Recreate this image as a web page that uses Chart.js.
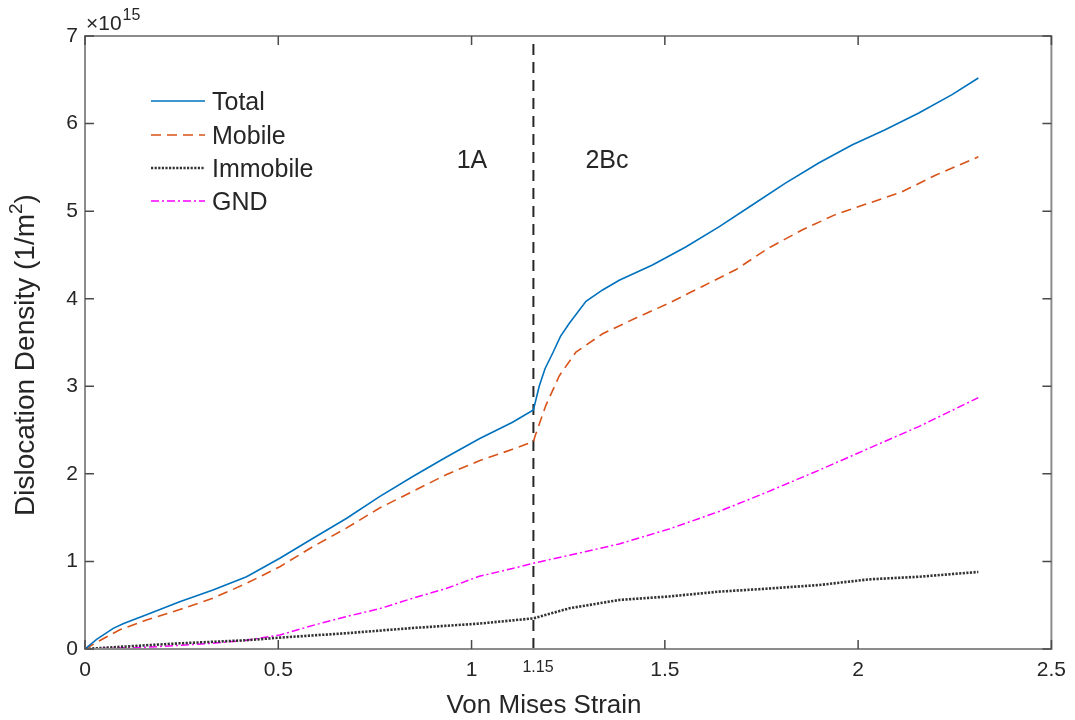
<!DOCTYPE html>
<html>
<head>
<meta charset="utf-8">
<script src="https://cdn.jsdelivr.net/npm/chart.js@4.4.0/dist/chart.umd.min.js"></script>
<style>
  html, body { margin: 0; padding: 0; background: #fff; }
</style>
</head>
<body>
<canvas id="myChart" width="1075" height="720"></canvas>
<script>
// values in units of 1e15 1/m^2 (axis shows x10^15)
const totalStrain  = [0, 0.03, 0.073, 0.1, 0.159, 0.245, 0.331, 0.418, 0.504, 0.59, 0.676, 0.762, 0.848, 0.934, 1.02, 1.106, 1.16,
                      1.175, 1.19, 1.21, 1.23, 1.253, 1.296, 1.339, 1.382, 1.468, 1.554, 1.64, 1.726, 1.812, 1.898, 1.984, 2.07, 2.157, 2.243, 2.311];
const totalDensity = [0, 0.11, 0.236, 0.29, 0.39, 0.54, 0.674, 0.826, 1.036, 1.264, 1.49, 1.74, 1.97, 2.19, 2.40, 2.59, 2.73,
                      3.0, 3.2, 3.38, 3.57, 3.72, 3.97, 4.10, 4.21, 4.385, 4.59, 4.82, 5.07, 5.32, 5.55, 5.755, 5.93, 6.12, 6.33, 6.52];

const mobileStrain  = [0, 0.04, 0.09, 0.159, 0.245, 0.331, 0.418, 0.504, 0.59, 0.676, 0.762, 0.848, 0.934, 1.02, 1.106, 1.16,
                       1.165, 1.192, 1.227, 1.27, 1.339, 1.425, 1.511, 1.597, 1.683, 1.769, 1.855, 1.941, 2.027, 2.113, 2.2, 2.311];
const mobileDensity = [0, 0.1, 0.22, 0.33, 0.45, 0.58, 0.75, 0.94, 1.17, 1.38, 1.61, 1.80, 1.99, 2.15, 2.28, 2.37,
                       2.44, 2.78, 3.12, 3.39, 3.6, 3.78, 3.95, 4.14, 4.33, 4.58, 4.785, 4.96, 5.09, 5.22, 5.41, 5.62];

const immobileStrain  = [0, 0.073, 0.245, 0.418, 0.504, 0.676, 0.848, 1.02, 1.16, 1.253, 1.382, 1.511, 1.64, 1.769, 1.898, 2.027, 2.157, 2.311];
const immobileDensity = [0, 0.02, 0.065, 0.10, 0.13, 0.18, 0.24, 0.29, 0.35, 0.465, 0.56, 0.60, 0.655, 0.69, 0.73, 0.795, 0.825, 0.88];

const gndStrain  = [0, 0.159, 0.331, 0.418, 0.504, 0.59, 0.676, 0.762, 0.848, 0.934, 1.02, 1.106, 1.16, 1.253, 1.382, 1.511, 1.64, 1.769, 1.898, 2.027, 2.157, 2.311];
const gndDensity = [0, 0.02, 0.065, 0.10, 0.16, 0.27, 0.37, 0.46, 0.58, 0.69, 0.83, 0.92, 0.98, 1.07, 1.20, 1.37, 1.57, 1.80, 2.04, 2.29, 2.54, 2.87];

// regime boundary
const boundaryStrain  = [1.16, 1.16];
const boundaryDensity = [0, 7];

const xTicks = [0, 0.5, 1, 1.5, 2, 2.5];
const yTicks = [0, 1, 2, 3, 4, 5, 6, 7];

const FONT = '"Liberation Sans", Arial, Helvetica, sans-serif';
const TXT = '#262626';

function toPoints(xs, ys) {
  return xs.map((x, i) => ({ x: x, y: ys[i] }));
}

const decor = {
  id: 'decor',
  afterDraw(chart) {
    const ctx = chart.ctx;
    const a = chart.chartArea;
    const xs = chart.scales.x, ys = chart.scales.y;
    ctx.save();

    // axes box
    ctx.strokeStyle = '#8c8c8c';
    ctx.lineWidth = 2;
    ctx.strokeRect(a.left, a.top, a.right - a.left, a.bottom - a.top);

    // inward ticks on all sides
    ctx.strokeStyle = '#4a4a4a';
    ctx.lineWidth = 1.5;
    ctx.beginPath();
    xTicks.forEach(v => {
      const p = xs.getPixelForValue(v);
      ctx.moveTo(p, a.bottom); ctx.lineTo(p, a.bottom - 9);
      ctx.moveTo(p, a.top); ctx.lineTo(p, a.top + 9);
    });
    yTicks.forEach(v => {
      const p = ys.getPixelForValue(v);
      ctx.moveTo(a.left, p); ctx.lineTo(a.left + 9, p);
      ctx.moveTo(a.right, p); ctx.lineTo(a.right - 9, p);
    });
    ctx.stroke();

    ctx.fillStyle = TXT;
    ctx.textBaseline = 'alphabetic';

    // exponent
    ctx.textAlign = 'left';
    ctx.font = '21px ' + FONT;
    ctx.fillText('\u00d710', 86, 30);
    const w10 = ctx.measureText('\u00d710').width;
    ctx.font = '16px ' + FONT;
    ctx.fillText('15', 86 + w10 + 1, 20);

    // x label
    ctx.textAlign = 'center';
    ctx.font = '26px ' + FONT;
    ctx.fillText('Von Mises Strain', 544, 713);

    // y label with superscript
    ctx.save();
    ctx.translate(34, 355);
    ctx.rotate(-Math.PI / 2);
    ctx.textAlign = 'left';
    ctx.font = '28px ' + FONT;
    const main = 'Dislocation Density (1/m';
    const wMain = ctx.measureText(main).width;
    ctx.font = '19px ' + FONT;
    const wSup = ctx.measureText('2').width;
    ctx.font = '28px ' + FONT;
    const wEnd = ctx.measureText(')').width;
    const start = -(wMain + wSup + wEnd) / 2;
    ctx.fillText(main, start, 0);
    ctx.font = '19px ' + FONT;
    ctx.fillText('2', start + wMain, -12);
    ctx.font = '28px ' + FONT;
    ctx.fillText(')', start + wMain + wSup, 0);
    ctx.restore();

    // regime labels
    ctx.textAlign = 'center';
    ctx.font = '25px ' + FONT;
    ctx.fillText('1A', 472, 168);
    ctx.fillText('2Bc', 607, 168);
    ctx.font = '16px ' + FONT;
    ctx.fillText('1.15', 538, 672);

    // legend
    const rows = [101, 135, 168, 201];
    ctx.textAlign = 'left';
    chart.data.datasets.slice(0, 4).forEach((ds, i) => {
      const y = rows[i];
      ctx.save();
      ctx.strokeStyle = ds.borderColor;
      ctx.lineWidth = ds.borderWidth;
      ctx.setLineDash(ds.borderDash || []);
      ctx.beginPath();
      ctx.moveTo(151, y);
      ctx.lineTo(205, y);
      ctx.stroke();
      ctx.restore();
      ctx.font = '25px ' + FONT;
      ctx.fillStyle = TXT;
      ctx.fillText(ds.label, 212, y + 9);
    });

    ctx.restore();
  }
};

const myChart = new Chart(document.getElementById('myChart'), {
  type: 'line',
  data: {
    datasets: [
      { label: 'Total', data: toPoints(totalStrain, totalDensity),
        borderColor: '#0072BD', borderWidth: 1.6 },
      { label: 'Mobile', data: toPoints(mobileStrain, mobileDensity),
        borderColor: '#D95319', borderWidth: 1.6, borderDash: [10, 6] },
      { label: 'Immobile', data: toPoints(immobileStrain, immobileDensity),
        borderColor: '#333333', borderWidth: 2.6, borderDash: [2.2, 1.4] },
      { label: 'GND', data: toPoints(gndStrain, gndDensity),
        borderColor: '#FF00FF', borderWidth: 1.5, borderDash: [8, 3, 2, 3] },
      { label: 'boundary', data: toPoints(boundaryStrain, boundaryDensity),
        borderColor: '#262626', borderWidth: 2, borderDash: [11, 7] }
    ]
  },
  options: {
    responsive: false,
    animation: false,
    elements: { point: { radius: 0 }, line: { tension: 0, fill: false } },
    layout: { padding: { top: 36, right: 19, bottom: 0, left: 0 } },
    plugins: { legend: { display: false }, tooltip: { enabled: false } },
    scales: {
      x: {
        type: 'linear', min: 0, max: 2.5,
        ticks: { stepSize: 0.5, color: TXT, padding: 9, maxRotation: 0,
                 font: { family: FONT, size: 21 },
                 callback: v => String(Math.round(v * 10) / 10) },
        grid: { display: false, drawTicks: false, tickLength: 0 },
        border: { display: false },
        afterFit: s => { s.height = 71; }
      },
      y: {
        min: 0, max: 7,
        ticks: { stepSize: 1, color: TXT, padding: 7,
                 font: { family: FONT, size: 21 } },
        grid: { display: false, drawTicks: false, tickLength: 0 },
        border: { display: false },
        afterFit: s => { s.width = 85; }
      }
    }
  },
  plugins: [decor]
});
</script>
</body>
</html>
